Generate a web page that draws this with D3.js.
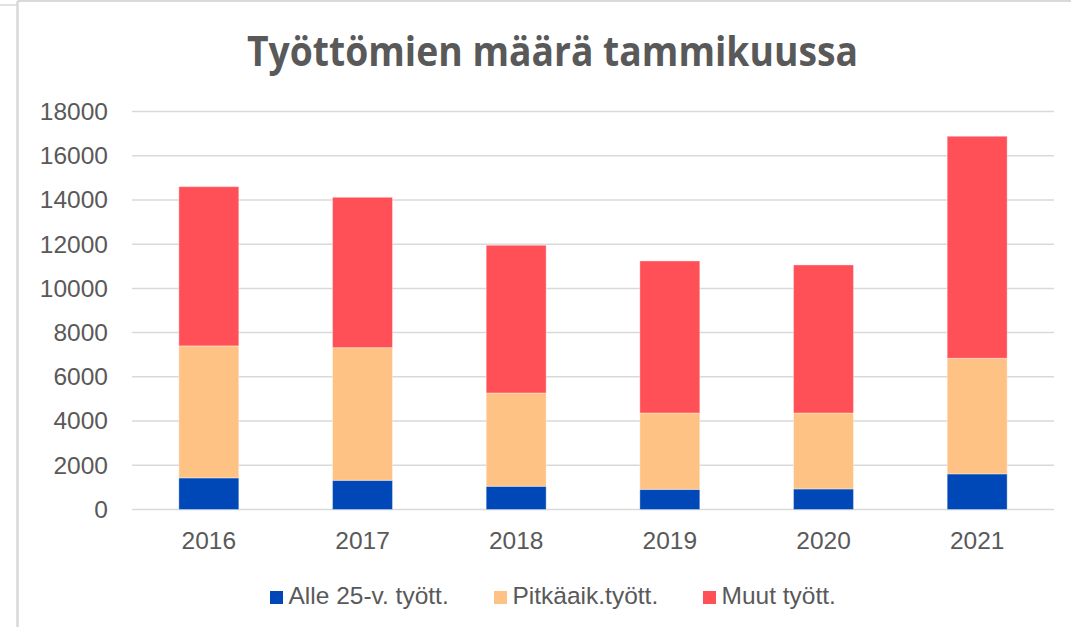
<!DOCTYPE html>
<html>
<head>
<meta charset="utf-8">
<script src="https://cdn.jsdelivr.net/npm/d3@7"></script>
<style>
  html, body { margin: 0; padding: 0; background: #ffffff; }
  svg { display: block; }
</style>
</head>
<body>
<svg id="chart" width="1071" height="627"></svg>
<script>
// ---- Data ----
const years = ["2016", "2017", "2018", "2019", "2020", "2021"];
const alle25 = [1430, 1320, 1050, 910, 930, 1610];
const pitkaaik = [5970, 6000, 4220, 3455, 3435, 5230];
const muut = [7200, 6800, 6680, 6875, 6695, 10040];
const seriesNames = ["Alle 25-v. tyött.", "Pitkäaik.tyött.", "Muut tyött."];
const seriesKeys = ["alle25", "pitkaaik", "muut"];
const seriesColors = ["#0047b7", "#ffc285", "#ff5057"];
const yTicks = [0, 2000, 4000, 6000, 8000, 10000, 12000, 14000, 16000, 18000];
const titleText = "Työttömien määrä tammikuussa";

// ---- Build table ----
const table = years.map((y, i) => ({ year: y, alle25: alle25[i], pitkaaik: pitkaaik[i], muut: muut[i] }));
const stacked = d3.stack().keys(seriesKeys)(table);

const svg = d3.select("#chart");
const W = 1071, H = 627;
const plot = { left: 132, right: 1054, top: 111.5, bottom: 509.5 };

// frame
svg.append("line").attr("x1", 0).attr("x2", 17).attr("y1", 5).attr("y2", 5)
  .attr("stroke", "#d9d9d9").attr("stroke-width", 1.5);
svg.append("line").attr("x1", 17.5).attr("x2", 17.5).attr("y1", 1).attr("y2", H)
  .attr("stroke", "#d9d9d9").attr("stroke-width", 2.5);
svg.append("line").attr("x1", 17.5).attr("x2", W).attr("y1", 1).attr("y2", 1)
  .attr("stroke", "#d9d9d9").attr("stroke-width", 2);

const x = d3.scaleBand().domain(years).range([plot.left, plot.right])
  .paddingInner(0.61).paddingOuter(0.305);
const y = d3.scaleLinear().domain([0, 18000]).range([plot.bottom, plot.top]);

// gridlines
svg.append("g").selectAll("line").data(yTicks).join("line")
  .attr("x1", plot.left).attr("x2", plot.right)
  .attr("y1", d => y(d)).attr("y2", d => y(d))
  .attr("stroke", "#d9d9d9").attr("stroke-width", 1.5);

// y axis
const yAxis = d3.axisLeft(y).tickValues(yTicks).tickSize(0).tickPadding(0).tickFormat(d3.format("d"));
const gy = svg.append("g").attr("transform", `translate(108,0)`).call(yAxis);
gy.select(".domain").remove();
gy.selectAll("text").attr("font-family", "'Liberation Sans', Arial, sans-serif")
  .attr("font-size", 24.5).attr("fill", "#595959");

// x axis
const xAxis = d3.axisBottom(x).tickSize(0).tickPadding(0);
const gx = svg.append("g").attr("transform", `translate(0,${plot.bottom})`).call(xAxis);
gx.select(".domain").remove();
gx.selectAll("text").attr("font-family", "'Liberation Sans', Arial, sans-serif")
  .attr("font-size", 24.5).attr("fill", "#595959").attr("dy", null).attr("y", 39);

// bars
svg.append("g").selectAll("g").data(stacked).join("g")
  .attr("fill", (d, i) => seriesColors[i])
  .selectAll("rect").data(d => d).join("rect")
  .attr("x", d => x(d.data.year))
  .attr("width", x.bandwidth())
  .attr("y", d => y(d[1]))
  .attr("height", d => y(d[0]) - y(d[1]))
  .attr("stroke", "rgba(255,255,255,0.35)").attr("stroke-width", 1);

// title
svg.append("text").text(titleText)
  .attr("x", 247).attr("y", 66)
  .attr("font-family", "'Open Sans', 'Noto Sans', sans-serif")
  .attr("font-weight", "bold").attr("font-size", 42)
  .attr("fill", "#595959")
  .attr("textLength", 611).attr("lengthAdjust", "spacingAndGlyphs");

// legend
const legendX = [270, 494, 703];
const lg = svg.append("g").selectAll("g").data(seriesNames).join("g")
  .attr("transform", (d, i) => `translate(${legendX[i]},0)`);
lg.append("rect").attr("x", 0).attr("y", 591).attr("width", 13).attr("height", 13)
  .attr("fill", (d, i) => seriesColors[i]);
lg.append("text").text(d => d).attr("x", 18.5).attr("y", 604)
  .attr("font-family", "'Liberation Sans', Arial, sans-serif")
  .attr("font-size", 24.5).attr("fill", "#595959");
</script>
</body>
</html>
